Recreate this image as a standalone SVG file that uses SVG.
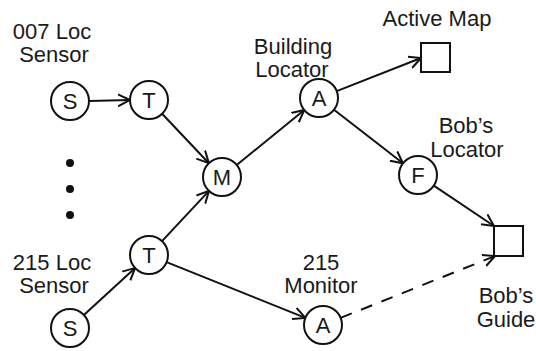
<svg xmlns="http://www.w3.org/2000/svg" width="536" height="351" viewBox="0 0 536 351">
<style>
.n{fill:#fff;stroke:#111;stroke-width:2}
.t{font-family:"Liberation Sans",Arial,sans-serif;font-size:22px;fill:#1a1a1a;text-anchor:middle}
.e{stroke:#111;stroke-width:2;fill:none;marker-end:url(#ah)}
.d{stroke-dasharray:12 10}
</style>
<defs>
<marker id="ah" markerUnits="userSpaceOnUse" markerWidth="14" markerHeight="14" refX="12" refY="6" orient="auto" viewBox="0 0 14 12">
<path d="M0,0 L12,6 L0,12" fill="none" stroke="#111" stroke-width="2"/>
</marker>
</defs>
<rect width="536" height="351" fill="#fff"/>
<g id="labels">
<text class="t" x="52" y="39">007 Loc</text>
<text class="t" x="54" y="62">Sensor</text>
<text class="t" x="52" y="270">215 Loc</text>
<text class="t" x="54" y="293">Sensor</text>
<text class="t" x="293" y="54">Building</text>
<text class="t" x="292" y="77">Locator</text>
<text class="t" x="437" y="26">Active Map</text>
<text class="t" x="466" y="133">Bob’s</text>
<text class="t" x="467" y="157">Locator</text>
<text class="t" x="321" y="270">215</text>
<text class="t" x="321" y="293">Monitor</text>
<text class="t" x="506" y="303">Bob’s</text>
<text class="t" x="506" y="327">Guide</text>
</g>
<g id="dots" fill="#111">
<circle cx="70" cy="163" r="4"/>
<circle cx="70" cy="189" r="4"/>
<circle cx="70" cy="215" r="4"/>
</g>
<g id="connectors">
<line class="e" x1="89" y1="101" x2="130" y2="100"/>
<line class="e" x1="162.1" y1="113.8" x2="208.9" y2="163.2"/>
<line class="e" x1="236.7" y1="165" x2="304.3" y2="110"/>
<line class="e" x1="162" y1="241.1" x2="209" y2="190.9"/>
<line class="e" x1="83.9" y1="315.1" x2="135.1" y2="267.9"/>
<line class="e" x1="166.6" y1="262.1" x2="305.4" y2="317.9"/>
<line class="e" x1="336.7" y1="91.1" x2="421" y2="58"/>
<line class="e" x1="334" y1="109.7" x2="403" y2="163.3"/>
<line class="e" x1="433.8" y1="185.6" x2="494" y2="226"/>
<line class="e d" x1="340.6" y1="317.9" x2="495" y2="256"/>
</g>
<g id="s1"><circle class="n" cx="70" cy="101" r="19"/><text class="t" x="70" y="109">S</text></g>
<g id="t1"><circle class="n" cx="149" cy="100" r="19"/><text class="t" x="149" y="108">T</text></g>
<g id="m"><circle class="n" cx="222" cy="177" r="19"/><text class="t" x="222" y="185">M</text></g>
<g id="t2"><circle class="n" cx="149" cy="255" r="19"/><text class="t" x="149" y="263">T</text></g>
<g id="s2"><circle class="n" cx="70" cy="328" r="19"/><text class="t" x="70" y="336">S</text></g>
<g id="a1"><circle class="n" cx="319" cy="98" r="19"/><text class="t" x="319" y="106">A</text></g>
<g id="f"><circle class="n" cx="418" cy="175" r="19"/><text class="t" x="418" y="183">F</text></g>
<g id="a2"><circle class="n" cx="323" cy="325" r="19"/><text class="t" x="323" y="333">A</text></g>
<g id="activemap"><rect class="n" x="421" y="43" width="29" height="29"/></g>
<g id="bobsguide"><rect class="n" x="494" y="226" width="29" height="30"/></g>
</svg>
